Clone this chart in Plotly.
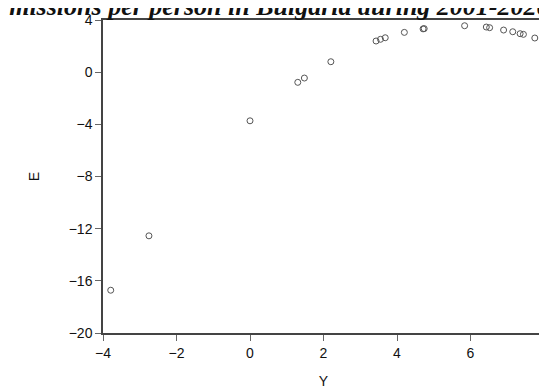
import plotly.graph_objects as go

title_text = "CO2 emissions per person in Bulgaria during 2001-2020"
x_label = "Y"
y_label = "E"

Y = [-3.79, -2.75, 0.00, 1.30, 1.48, 2.20, 3.43, 3.55, 3.68, 4.20,
     4.71, 4.74, 5.84, 6.43, 6.52, 6.90, 7.15, 7.35, 7.44, 7.75]
E = [-16.72, -12.55, -3.73, -0.78, -0.45, 0.80, 2.39, 2.52, 2.64, 3.05,
     3.32, 3.34, 3.56, 3.46, 3.41, 3.23, 3.10, 2.95, 2.90, 2.62]

x_ticks = [-4, -2, 0, 2, 4, 6, 8]
y_ticks = [4, 0, -4, -8, -12, -16, -20]

fig = go.Figure()
fig.add_trace(go.Scatter(
    x=Y, y=E, mode="markers",
    marker=dict(symbol="circle-open", size=6, color="#555555",
                line=dict(width=1, color="#555555")),
    showlegend=False,
))

axis_common = dict(
    showgrid=False, zeroline=False, showline=True, mirror=True, automargin=False,
    ticklabeloverflow="allow",
    linecolor="#444444", linewidth=1.5, ticks="outside", ticklen=6,
    tickcolor="#666666", tickfont=dict(family="Liberation Sans, Arial", size=14, color="#111111"),
)

fig.add_annotation(
    text="<b><i>" + title_text + "</i></b>",
    font=dict(family="Liberation Serif, Times New Roman", size=26, color="#111111"),
    xref="paper", yref="paper", x=1.019, y=1.042,
    xanchor="right", yanchor="middle", showarrow=False,
)

fig.update_layout(
    width=539, height=381,
    margin=dict(l=95, r=3, t=12, b=56),
    paper_bgcolor="white", plot_bgcolor="white",
    xaxis=dict(range=[-4, 8], tickvals=x_ticks,
               title=dict(text=x_label, font=dict(family="Liberation Sans, Arial", size=14, color="#111111"), standoff=30),
               **axis_common),
    yaxis=dict(range=[-20, 4], tickvals=y_ticks,
               title=dict(text=y_label, font=dict(family="Liberation Sans, Arial", size=14, color="#111111"), standoff=26),
               **axis_common),
)

fig.write_html("out.html")
